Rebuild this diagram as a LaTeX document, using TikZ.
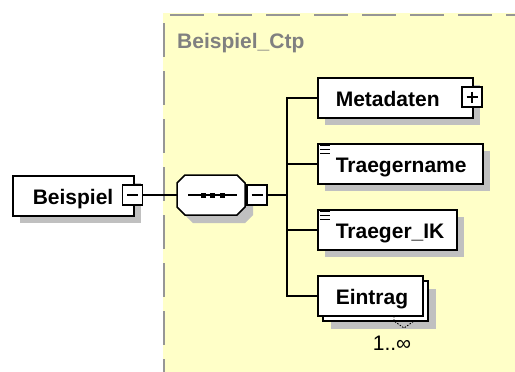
\documentclass[tikz,border=0pt]{standalone}
\usepackage{fontspec}
\setmainfont{Liberation Sans}
\usetikzlibrary{calc}
\definecolor{ctpyellow}{RGB}{255,255,200}
\definecolor{ctpdash}{RGB}{150,150,150}
\definecolor{shadowgray}{RGB}{192,192,192}
\definecolor{labelgray}{RGB}{128,128,128}
\begin{document}
\begin{tikzpicture}[x=1pt,y=-1pt,
  elem/.style={draw=black, line width=1.6pt, fill=white, rectangle, inner sep=0pt,
    minimum height=40pt, text height=17pt, text depth=0pt, align=left,
    font=\fontsize{21pt}{24pt}\selectfont\bfseries, anchor=north west},
  shadowbox/.style={fill=shadowgray, draw=none},
  pm/.style={draw=black, line width=1.3pt, fill=white, minimum size=20pt, inner sep=0pt, rectangle},
  pmline/.style={line width=1.3pt, black},
  conn/.style={line width=1.5pt, black},
  docicon/.style={line width=1.3pt, black},
]
\useasboundingbox (0,0) rectangle (515,372);

% complex type area
\fill[ctpyellow] (163,13) rectangle (515,372);
\draw[ctpdash, line width=1.6pt, dash pattern=on 34pt off 14pt, dash phase=42pt] (164,15) -- (515,15);
\draw[ctpdash, line width=1.6pt, dash pattern=on 34pt off 14pt, dash phase=40pt] (164,15) -- (164,372);
\node[anchor=base west, inner sep=0pt, text=labelgray, font=\fontsize{21pt}{24pt}\selectfont\bfseries] (ctp) at (177,48.5) {Beispiel\_Ctp};

% Beispiel root element
\fill[shadowbox] (20,183) rectangle (141,223);
\node[elem, text width=121pt] (root) at (12,175) {\hspace*{20pt}Beispiel};
\node[pm] (rootm) at (132.5,195) {};
\draw[pmline] ($(rootm.center)+(-5.5,0)$) -- ($(rootm.center)+(5.5,0)$);

% sequence compositor
\node[minimum width=68pt, minimum height=40pt, inner sep=0pt] (seq) at (211,195) {};
\fill[shadowbox, shift={(219,203)}] (-26,-20) -- (26,-20) -- (34,-12) -- (34,12) -- (26,20) -- (-26,20) -- (-34,12) -- (-34,-12) -- cycle;
\draw[line width=1.5pt, fill=white, shift={(seq.center)}] (-26,-20) -- (26,-20) -- (34,-12) -- (34,12) -- (26,20) -- (-26,20) -- (-34,12) -- (-34,-12) -- cycle;
\draw[line width=1.5pt] ($(seq.center)+(-23,0)$) -- ($(seq.center)+(26,0)$);
\foreach \dx in {-8,1.5,11} {
  \fill ($(seq.center)+(\dx-2.5,-2.5)$) rectangle ($(seq.center)+(\dx+2.5,2.5)$);
}
\node[pm] (seqm) at (257,195) {};
\draw[pmline] ($(seqm.center)+(-5.5,0)$) -- ($(seqm.center)+(5.5,0)$);

% Metadaten
\fill[shadowbox] (325,85) rectangle (480,125);
\node[elem, text width=155pt] (meta) at (317,77) {\hspace*{18pt}Metadaten};
\node[pm] (metap) at (472,97) {};
\draw[pmline] ($(metap.center)+(-5.5,0)$) -- ($(metap.center)+(5.5,0)$);
\draw[pmline] ($(metap.center)+(0,-5.5)$) -- ($(metap.center)+(0,5.5)$);

% Traegername
\fill[shadowbox] (325,151) rectangle (490,191);
\node[elem, text width=165pt] (tname) at (317,143) {\hspace*{18pt}Traegername};
\foreach \dy in {2.5,6.5,10.5} {
  \draw[docicon] ($(tname.north west)+(3,\dy)$) -- ++(10,0);
}

% Traeger_IK
\fill[shadowbox] (325,217) rectangle (464,257);
\node[elem, text width=139pt] (tik) at (317,209) {\hspace*{18pt}Traeger\_IK};
\foreach \dy in {2.5,6.5,10.5} {
  \draw[docicon] ($(tik.north west)+(3,\dy)$) -- ++(10,0);
}

% Eintrag (multiple occurrences)
\fill[shadowbox] (331,289) rectangle (436,329);
\draw[line width=1.6pt, fill=white] (323,281) rectangle (428,321);
\node[elem, text width=105pt] (eint) at (317,275) {\hspace*{18pt}Eintrag};
\draw[line width=0.9pt, dash pattern=on 1.5pt off 1.5pt] (394,316) -- (394,321) -- (404,328) -- (414,321);
\node[inner sep=0pt, font=\fontsize{21pt}{24pt}\selectfont] (occ) at (392,343) {1..∞};

% connectors
\coordinate (trunk) at ($(meta.west)+(-30,0)$);
\draw[conn] (rootm.east) -- (seq.west);
\draw[conn] (seqm.east) -- (trunk |- seqm.east);
\draw[conn] (meta.west) -- (trunk) |- (eint.west);
\draw[conn] (tname.west) -- (trunk |- tname.west);
\draw[conn] (tik.west) -- (trunk |- tik.west);
\end{tikzpicture}
\end{document}
